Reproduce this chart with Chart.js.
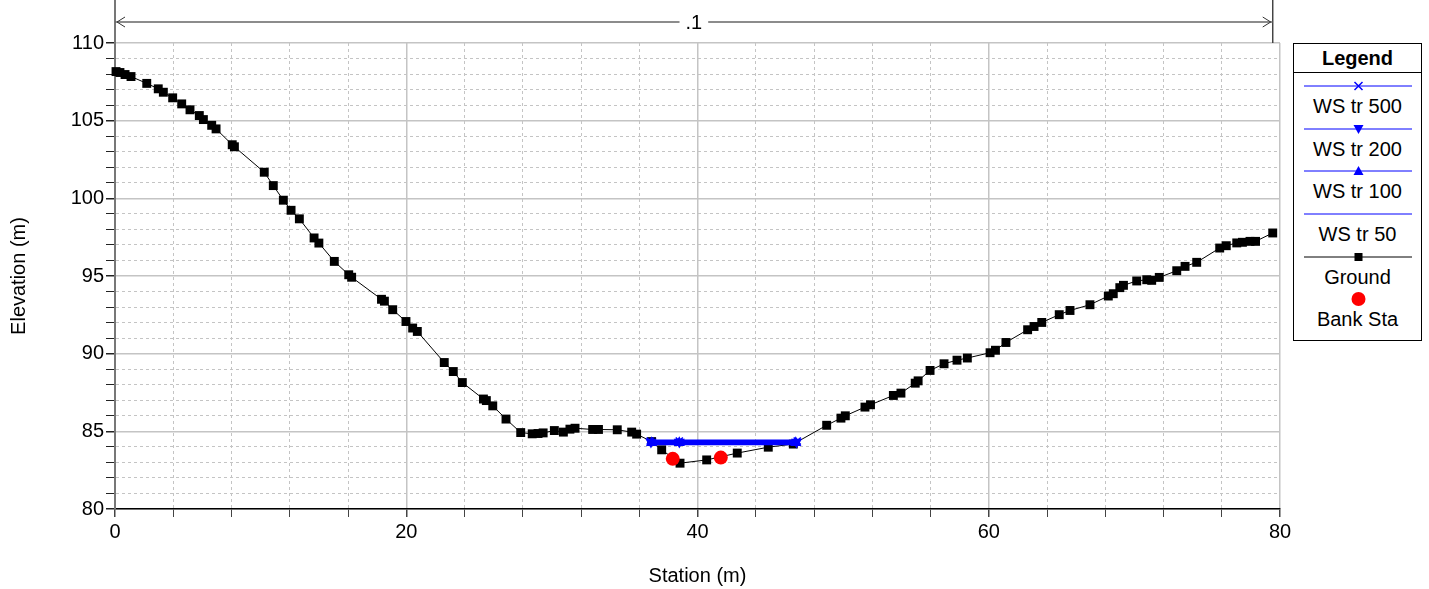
<!DOCTYPE html>
<html>
<head>
<meta charset="utf-8">
<title>Cross section</title>
<script src="https://cdn.jsdelivr.net/npm/chart.js@4/dist/chart.umd.min.js"></script>
<style>
  body { margin: 0; background: #fff; }
  #wrap { position: relative; width: 1429px; height: 589px; font-family: "Liberation Sans", Arial, sans-serif; }
  #legend { position: absolute; left: 1293px; top: 43px; width: 127px; height: 296px; border: 1px solid #000; background: #fff; }
  .lg-title { height: 28px; line-height: 28px; text-align: center; font-weight: bold; font-size: 20px; border-bottom: 1px solid #000; }
  .lg-item { position: relative; height: 42.7px; }
  .lg-item svg { position: absolute; left: 0; top: 6px; }
  .lg-item span { position: absolute; left: 0; right: 0; top: 22px; text-align: center; font-size: 20px; line-height: 22px; color: #000; }
</style>
</head>
<body>
<div id="wrap">
  <canvas id="xsChart" width="1429" height="589"></canvas>
  <div id="legend">
    <div class="lg-title">Legend</div>
    <div id="lgItems"></div>
  </div>
</div>
<script>

const groundStation = [
    0.07, 0.34, 0.69, 1.1, 2.18, 2.97, 3.32, 3.96, 4.58, 5.15,
    5.79, 6.07, 6.64, 6.94, 8.05, 8.2, 10.25, 10.87, 11.56, 12.09,
    12.66, 13.67, 14.0, 15.06, 16.05, 16.25, 18.3, 18.5, 19.07, 19.98,
    20.44, 20.76, 22.61, 23.23, 23.85, 25.3, 25.5, 25.94, 26.85, 27.86,
    28.65, 29.05, 29.4, 30.17, 30.79, 31.24, 31.59, 32.8, 33.2, 34.49,
    35.48, 35.82, 36.85, 37.54, 38.8, 40.63, 42.73, 44.86, 46.58, 48.87,
    49.85, 50.15, 51.5, 51.88, 53.45, 53.97, 54.95, 55.15, 55.97, 56.93,
    57.82, 58.53, 60.09, 60.46, 61.18, 62.67, 63.11, 63.64, 64.84, 65.58,
    66.95, 68.21, 68.55, 69.0, 69.25, 70.16, 70.85, 71.19, 71.71, 72.91,
    73.48, 74.28, 75.86, 76.31, 77.03, 77.42, 77.94, 78.32, 79.5
];
const groundElevation = [
    108.16, 108.1, 107.97, 107.84, 107.4, 107.05, 106.83, 106.47, 106.08, 105.7,
    105.33, 105.07, 104.7, 104.47, 103.45, 103.32, 101.68, 100.82, 99.88, 99.23,
    98.68, 97.45, 97.12, 95.94, 95.08, 94.92, 93.5, 93.38, 92.83, 92.07,
    91.65, 91.43, 89.43, 88.85, 88.14, 87.08, 86.98, 86.64, 85.79, 84.92,
    84.84, 84.86, 84.9, 85.05, 84.95, 85.14, 85.2, 85.12, 85.12, 85.1,
    84.95, 84.82, 84.34, 83.81, 82.95, 83.16, 83.6, 83.98, 84.18, 85.39,
    85.85, 86.0, 86.56, 86.71, 87.31, 87.46, 88.1, 88.25, 88.92, 89.35,
    89.58, 89.72, 90.06, 90.22, 90.72, 91.54, 91.75, 92.01, 92.51, 92.78,
    93.15, 93.71, 93.86, 94.25, 94.4, 94.68, 94.76, 94.72, 94.91, 95.34,
    95.62, 95.88, 96.8, 96.95, 97.13, 97.17, 97.23, 97.23, 97.77
];

const bankStation = [38.3, 41.6];
const bankElevation = [83.23, 83.31];

// water surfaces: left edge, bank point, right edge
const wsNames = ['WS tr 500', 'WS tr 200', 'WS tr 100', 'WS tr 50'];
const wsStations = [
    [36.75, 38.75, 46.85],
    [36.8, 38.75, 46.8],
    [36.85, 38.75, 46.75],
    [36.9, 38.75, 46.7]
];
const wsElevation = [84.38, 84.32, 84.26, 84.2];

const xTickLabels = [0, 20, 40, 60, 80];
const yTickLabels = [80, 85, 90, 95, 100, 105, 110];

const reachEnds = [0, 79.5];
const reachLabel = '.1';

// ---- helpers ----

const FONT = '"Liberation Sans", Arial, sans-serif';
const GRID = '#c4c4c4';

function toPoints(xs, ys) {
    return xs.map((x, i) => ({ x: x, y: ys[i] }));
}

const wsMarkers = [
    { style: 'crossRot', rotation: 0 },
    { style: 'triangle', rotation: 180 },
    { style: 'triangle', rotation: 0 },
    { style: false, rotation: 0 }
];

const wsDatasets = wsNames.map((name, i) => ({
    label: name,
    data: wsStations[i].map(x => ({ x: x, y: wsElevation[i] })),
    showLine: true,
    borderColor: '#0000ff',
    backgroundColor: '#0000ff',
    borderWidth: 3,
    pointStyle: wsMarkers[i].style,
    rotation: wsMarkers[i].rotation,
    pointRadius: wsMarkers[i].style ? 5 : 0,
    pointBorderWidth: 1.5,
    order: 1,
    clip: false
}));

const datasets = wsDatasets.concat([
    {
        label: 'Ground',
        data: toPoints(groundStation, groundElevation),
        showLine: true,
        borderColor: '#000',
        backgroundColor: '#000',
        borderWidth: 1,
        pointStyle: 'rect',
        pointRadius: 6.3,
        pointBorderWidth: 0,
        order: 2,
        clip: false
    },
    {
        label: 'Bank Sta',
        data: toPoints(bankStation, bankElevation),
        showLine: false,
        borderColor: '#ff0000',
        backgroundColor: '#ff0000',
        pointStyle: 'circle',
        pointRadius: 7,
        pointBorderWidth: 0,
        order: 0,
        clip: false
    }
]);

// reach length arrow above the plot
const reachPlugin = {
    id: 'reachArrow',
    afterDraw(chart) {
        const ctx = chart.ctx;
        const xs = chart.scales.x;
        const top = chart.chartArea.top;
        const x0 = xs.getPixelForValue(reachEnds[0]);
        const x1 = xs.getPixelForValue(reachEnds[1]);
        const y = 22;

        ctx.save();

        ctx.strokeStyle = '#777';
        ctx.lineWidth = 2;
        ctx.beginPath();
        ctx.moveTo(x0, 0);
        ctx.lineTo(x0, top);
        ctx.stroke();

        ctx.strokeStyle = '#444';
        ctx.lineWidth = 1.5;
        ctx.beginPath();
        ctx.moveTo(x1, 0);
        ctx.lineTo(x1, top);
        ctx.stroke();

        ctx.strokeStyle = '#666';
        ctx.lineWidth = 1.5;
        ctx.beginPath();
        ctx.moveTo(x0, y);
        ctx.lineTo(x1, y);
        ctx.stroke();

        ctx.strokeStyle = '#333';
        ctx.lineWidth = 1;
        ctx.beginPath();
        ctx.moveTo(x0 + 10, y - 5);
        ctx.lineTo(x0 + 2, y);
        ctx.lineTo(x0 + 10, y + 5);
        ctx.moveTo(x1 - 10, y - 5);
        ctx.lineTo(x1 - 2, y);
        ctx.lineTo(x1 - 10, y + 5);
        ctx.stroke();

        const mid = (x0 + x1) / 2;
        ctx.font = '20px ' + FONT;
        const w = ctx.measureText(reachLabel).width;
        ctx.fillStyle = '#fff';
        ctx.fillRect(mid - w / 2 - 6, y - 10, w + 12, 20);
        ctx.fillStyle = '#000';
        ctx.textAlign = 'center';
        ctx.textBaseline = 'middle';
        ctx.fillText(reachLabel, mid, y + 1);

        ctx.restore();
    }
};

function isMajor(ctx, step) {
    return ctx.tick && Math.abs(ctx.tick.value % step) < 1e-9;
}

const chart = new Chart(document.getElementById('xsChart'), {
    type: 'scatter',
    data: { datasets: datasets },
    options: {
        responsive: false,
        animation: false,
        layout: { padding: { top: 43, right: 149, left: 0, bottom: 0 } },
        plugins: {
            legend: { display: false },
            tooltip: { enabled: false }
        },
        scales: {
            x: {
                type: 'linear',
                min: 0,
                max: 80,
                ticks: {
                    stepSize: 4,
                    autoSkip: false,
                    maxRotation: 0,
                    padding: 3,
                    color: '#000',
                    font: { size: 20, family: FONT },
                    callback: v => xTickLabels.includes(v) ? v : ''
                },
                grid: {
                    color: GRID,
                    lineWidth: c => isMajor(c, 20) ? 1.5 : 1,
                    tickLength: 8,
                    tickColor: '#444'
                },
                border: {
                    color: '#000',
                    width: 1.5,
                    dash: c => (c.tick && !isMajor(c, 20)) ? [3, 3] : []
                },
                title: {
                    display: true,
                    text: 'Station (m)',
                    color: '#000',
                    font: { size: 20, family: FONT },
                    padding: { top: 0, bottom: 1 }
                },
                afterFit: s => { s.height = 80; }
            },
            y: {
                type: 'linear',
                min: 80,
                max: 110,
                ticks: {
                    stepSize: 1,
                    autoSkip: false,
                    padding: 2,
                    color: '#000',
                    font: { size: 20, family: FONT },
                    callback: v => yTickLabels.includes(v) ? v : ''
                },
                grid: {
                    color: GRID,
                    lineWidth: c => isMajor(c, 5) ? 1.5 : 1,
                    tickLength: 9,
                    tickColor: '#222'
                },
                border: {
                    color: '#777',
                    width: 2,
                    dash: c => (c.tick && !isMajor(c, 5)) ? [3, 3] : []
                },
                title: {
                    display: true,
                    text: 'Elevation (m)',
                    color: '#000',
                    font: { size: 20, family: FONT },
                    padding: { top: 7, bottom: 0 }
                },
                afterFit: s => { s.width = 115; }
            }
        }
    },
    plugins: [reachPlugin]
});

// ---- legend box built from the datasets ----

function markerSvg(ds, cx, cy) {
    const c = ds.backgroundColor;
    if (ds.pointStyle === 'crossRot') {
        return `<path d="M${cx - 4} ${cy - 4} L${cx + 4} ${cy + 4} M${cx - 4} ${cy + 4} L${cx + 4} ${cy - 4}" stroke="${c}" stroke-width="1.5"/>`;
    }
    if (ds.pointStyle === 'triangle' && ds.rotation === 180) {
        return `<polygon points="${cx - 5},${cy - 4} ${cx + 5},${cy - 4} ${cx},${cy + 5}" fill="${c}"/>`;
    }
    if (ds.pointStyle === 'triangle') {
        return `<polygon points="${cx - 5},${cy + 4} ${cx + 5},${cy + 4} ${cx},${cy - 5}" fill="${c}"/>`;
    }
    if (ds.pointStyle === 'rect') {
        return `<rect x="${cx - 4}" y="${cy - 4}" width="8" height="8" fill="${c}"/>`;
    }
    if (ds.pointStyle === 'circle') {
        return `<circle cx="${cx}" cy="${cy}" r="7" fill="${c}"/>`;
    }
    return '';
}

const lgItems = document.getElementById('lgItems');
chart.data.datasets.forEach(ds => {
    const line = ds.showLine
        ? `<line x1="10" y1="7" x2="118" y2="7" stroke="${ds.borderColor}" stroke-width="1"/>`
        : '';
    const item = document.createElement('div');
    item.className = 'lg-item';
    item.innerHTML =
        `<svg width="127" height="14">${line}${markerSvg(ds, 64.5, 7)}</svg>` +
        `<span>${ds.label}</span>`;
    lgItems.appendChild(item);
});
</script>
</body>
</html>
